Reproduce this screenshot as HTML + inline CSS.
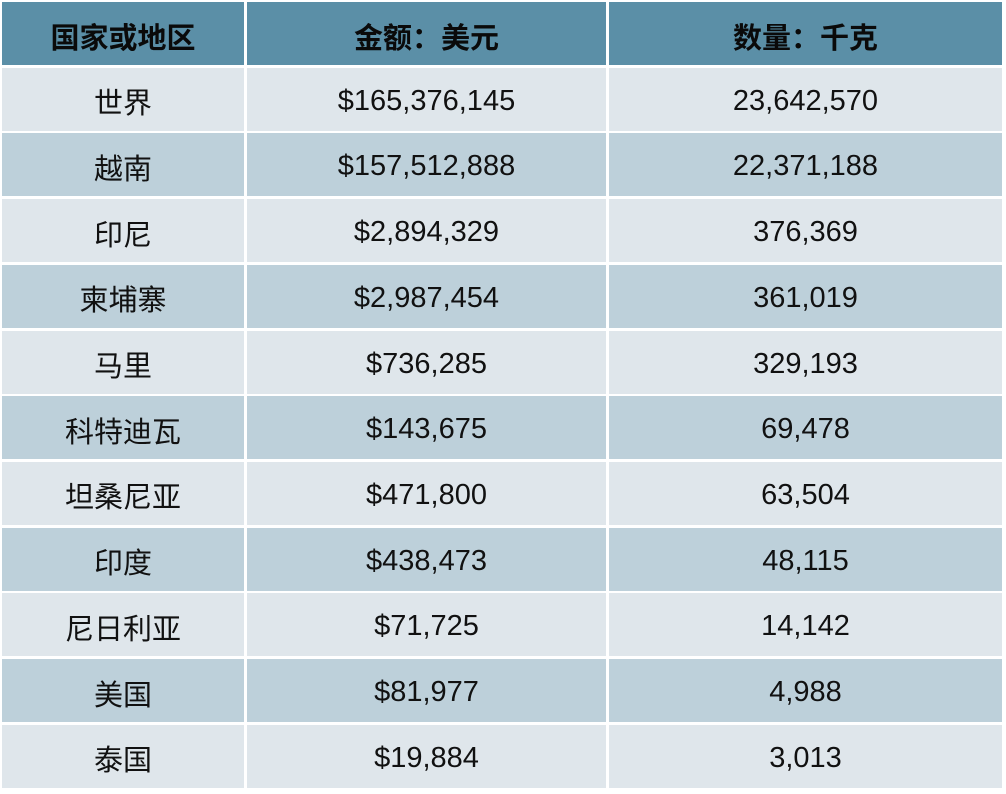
<!DOCTYPE html>
<html><head><meta charset="utf-8"><style>
body{margin:0;width:1006px;height:794px;background:#fff;position:relative;overflow:hidden;font-family:"Liberation Sans","Noto Sans CJK SC",sans-serif;}
.c{position:absolute;display:flex;align-items:center;justify-content:center;font-size:29px;color:#111;box-sizing:border-box;padding-top:4px;}
.h{background:#5b8fa7;font-weight:bold;color:#0a0a0a;}
.a{background:#dfe6eb;}
.b{background:#bdd0da;}
</style></head><body>
<script>
const rows=[["国家或地区","金额：美元","数量：千克"],["世界","$165,376,145","23,642,570"],["越南","$157,512,888","22,371,188"],["印尼","$2,894,329","376,369"],["柬埔寨","$2,987,454","361,019"],["马里","$736,285","329,193"],["科特迪瓦","$143,675","69,478"],["坦桑尼亚","$471,800","63,504"],["印度","$438,473","48,115"],["尼日利亚","$71,725","14,142"],["美国","$81,977","4,988"],["泰国","$19,884","3,013"]];
const cols=[[2,242],[247,359],[609,393]];
let h='';
rows.forEach((r,i)=>{const top=2+i*65.7;const cls=i==0?'h':(i%2?'a':'b');
r.forEach((t,j)=>{h+=`<div class="c ${cls}" style="left:${cols[j][0]}px;width:${cols[j][1]}px;top:${top}px;height:63px">${t}</div>`;});});
document.write(h);
</script>
</body></html>
